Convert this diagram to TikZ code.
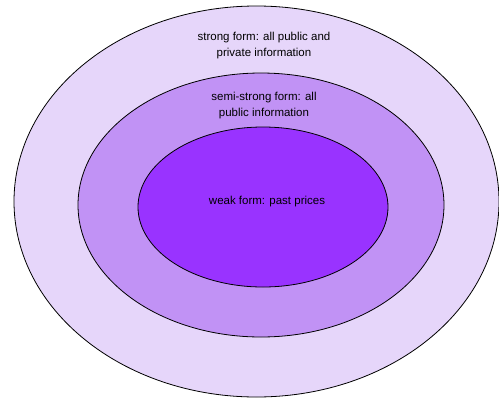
\documentclass[tikz,border=0pt]{standalone}
\usepackage{fontspec}
\setmainfont{Liberation Sans}
\usepackage{xcolor}
\usepackage{tikz}
\usetikzlibrary{shapes.geometric}
\definecolor{strongfill}{RGB}{230, 214, 250}
\definecolor{semifill}{RGB}{193, 146, 245}
\definecolor{weakfill}{RGB}{153, 51, 255}

\begin{document}
\begin{tikzpicture}[x=1pt, y=-1pt,
  ring/.style={ellipse, draw=black, line width=0.8pt, inner sep=0pt},
  lbl/.style={font=\fontsize{11.5}{16}\selectfont, align=center, text=black}
]
  \useasboundingbox (0,0) rectangle (499,400);
  \node[ring, fill=strongfill, minimum width=485pt, minimum height=391pt] (strong) at (256.5,201.5) {};
  \node[ring, fill=semifill, minimum width=366pt, minimum height=264pt] (semi) at (261,205) {};
  \node[ring, fill=weakfill, minimum width=250pt, minimum height=160pt] (weak) at (263,207) {};

  \node[lbl] (strongtxt) at (264,46) {strong form: all public and\\private information};
  \node[lbl] (semitxt) at (264,106) {semi-strong form: all\\public information};
  \node[lbl] (weaktxt) at (267,202) {weak form: past prices};
\end{tikzpicture}
\end{document}
